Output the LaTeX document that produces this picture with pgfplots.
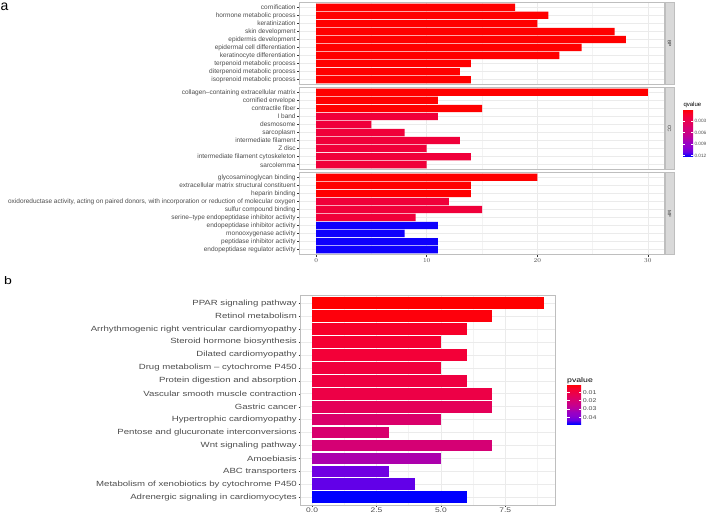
\documentclass[border=0pt]{standalone}
\usepackage{fontspec}
\setmainfont{Liberation Sans}
\newfontfamily\widesans[FakeStretch=1.28]{Liberation Sans}
\usepackage{pgfplots}
\pgfplotsset{compat=1.18}

\definecolor{axtext}{RGB}{77,77,77}
\definecolor{tickcol}{RGB}{51,51,51}
\definecolor{gridmaj}{RGB}{235,235,235}
\definecolor{gridmin}{RGB}{243,243,243}
\definecolor{frame}{RGB}{190,190,190}
\definecolor{stripfill}{RGB}{217,217,217}
\definecolor{qred}{RGB}{255,0,0}
\definecolor{qcrim}{RGB}{240,0,58}
\definecolor{qblue}{RGB}{14,0,252}

\pgfplotsset{
  % blue (high value) -> red (low value); used with negated meta so red sits on top
  colormap={br}{rgb255=(0,0,255) rgb255=(104,0,230) rgb255=(140,0,207) rgb255=(154,0,195) rgb255=(184,0,160) rgb255=(201,0,136) rgb255=(214,0,115) rgb255=(226,0,93) rgb255=(237,0,70) rgb255=(248,0,45) rgb255=(255,0,0)},
  common/.style={
    scale only axis, anchor=north west,
    xbar, bar shift=0pt, bar width=0.9,
    ymin=0.4, y dir=reverse,
    xmajorgrids, ymajorgrids, xminorgrids,
    major grid style={gridmaj, line width=0.6pt},
    minor grid style={gridmin, line width=0.4pt},
    axis line style={frame, line width=0.9pt},
    tick align=outside, major tick length=2.5pt,
    tick style={tickcol, line width=0.4pt},
    minor tick style={draw=none},
    xtick pos=bottom, ytick pos=left,
  },
  facet/.style={
    common,
    xmin=-1.5, xmax=31.5, ymax=10.6,
    ytick={1,...,10}, xtick={0,10,20,30}, minor xtick={5,15,25},
    tick label style={font=\fontsize{6.5}{7}\selectfont, text=axtext},
    yticklabel style={inner sep=1.2pt},
    xticklabel style={inner sep=1pt},
    width=365pt, height=82pt,
  },
  % the standalone colorbar lands ~8.7pt right of its "at"; the x values below allow for that
  cbar/.style={
    anchor=north west,
    scale only axis, scaled y ticks=false,
    axis line style={draw=none},
    tick align=inside,
    ytick style={white, line width=0.5pt},
  },
}

\begin{document}
\begin{tikzpicture}
\path[use as bounding box] (0pt,0pt) rectangle (709pt,-513pt);

\node[anchor=north west, inner sep=0pt, font=\fontsize{14}{14}\selectfont] at (0.5pt,-2.8pt) {a};
\node[anchor=north west, inner sep=0pt, font=\widesans\fontsize{11}{11}\selectfont] at (4pt,-276.5pt) {b};

% ---- panel a: BP
\begin{axis}[facet, at={(299.5pt,-2.5pt)},
  x tick style={draw=none}, xticklabels={},
  yticklabels={cornification, hormone metabolic process, keratinization, skin development, epidermis development, epidermal cell differentiation, keratinocyte differentiation, terpenoid metabolic process, diterpenoid metabolic process, isoprenoid metabolic process}]
\addplot[fill=qred, draw=none] coordinates {(18,1) (21,2) (20,3) (27,4) (28,5) (24,6) (22,7) (14,8) (13,9) (14,10)};
\end{axis}

% ---- panel a: CC
\begin{axis}[facet, at={(299.5pt,-87.5pt)},
  x tick style={draw=none}, xticklabels={},
  yticklabels={collagen–containing extracellular matrix, cornified envelope, contractile fiber, I band, desmosome, sarcoplasm, intermediate filament, Z disc, intermediate filament cytoskeleton, sarcolemma}]
\addplot[fill=qred, draw=none] coordinates {(30,1) (11,2) (15,3)};
\addplot[fill=qcrim, draw=none] coordinates {(11,4) (5,5) (8,6) (13,7) (10,8) (14,9) (10,10)};
\end{axis}

% ---- panel a: MF
\begin{axis}[facet, at={(299.5pt,-172.5pt)},
  yticklabels={glycosaminoglycan binding, extracellular matrix structural constituent, heparin binding, {oxidoreductase activity, acting on paired donors, with incorporation or reduction of molecular oxygen}, sulfur compound binding, serine–type endopeptidase inhibitor activity, endopeptidase inhibitor activity, monooxygenase activity, peptidase inhibitor activity, endopeptidase regulator activity}]
\addplot[fill=qred, draw=none] coordinates {(20,1) (14,2) (14,3)};
\addplot[fill=qcrim, draw=none] coordinates {(12,4) (15,5) (9,6)};
\addplot[fill=qblue, draw=none] coordinates {(11,7) (8,8) (11,9) (11,10)};
\end{axis}

% facet strips
\foreach \ytop/\lab in {2.5/BP, 87.5/CC, 172.5/MF}{
  \draw[frame, fill=stripfill, line width=0.6pt] (665pt,-\ytop pt) rectangle (674pt,{-(\ytop+82)*1pt});
  \node[rotate=-90, inner sep=0pt, font=\fontsize{4.8}{5}\selectfont, text=tickcol] at (669.5pt,{-(\ytop+41)*1pt}) {\lab};
}

% qvalue legend
\node[anchor=base west, inner sep=0pt, font=\fontsize{6}{6}\selectfont] at (683.3pt,-106.3pt) {qvalue};
\pgfplotscolorbardrawstandalone[
  colormap name=br, point meta min=-0.0123, point meta max=0,
  colorbar style={cbar,
    at={(674.6pt,-109.3pt)},
    width=10pt, height=47.4pt,
    ytick={-0.003,-0.006,-0.009,-0.012},
    yticklabels={0.003,0.006,0.009,0.012},
    major tick length=2pt,
    yticklabel style={font=\fontsize{4.7}{5}\selectfont, text=axtext, inner sep=1.2pt},
  }]

% ---- panel b
\begin{axis}[common, at={(300.5pt,-295.5pt)},
  width=255pt, height=209.5pt,
  xmin=-0.45, xmax=9.45, ymax=16.6,
  ytick={1,...,16},
  xtick={0,2.5,5,7.5}, xticklabels={0.0,2.5,5.0,7.5},
  minor xtick={1.25,3.75,6.25,8.75},
  major tick length=2pt,
  tick label style={font=\widesans\fontsize{7.5}{8}\selectfont, text=axtext},
  xticklabel style={font=\widesans\fontsize{6.6}{7}\selectfont, inner sep=0.3pt},
  yticklabel style={inner sep=1.5pt},
  yticklabels={PPAR signaling pathway, Retinol metabolism, Arrhythmogenic right ventricular cardiomyopathy, Steroid hormone biosynthesis, Dilated cardiomyopathy, Drug metabolism – cytochrome P450, Protein digestion and absorption, Vascular smooth muscle contraction, Gastric cancer, Hypertrophic cardiomyopathy, Pentose and glucuronate interconversions, Wnt signaling pathway, Amoebiasis, ABC transporters, Metabolism of xenobiotics by cytochrome P450, Adrenergic signaling in cardiomyocytes}]
\addplot[fill={rgb,255:red,255;green,0;blue,0}, draw=none] coordinates {(9,1)};
\addplot[fill={rgb,255:red,254;green,0;blue,12}, draw=none] coordinates {(7,2)};
\addplot[fill={rgb,255:red,247;green,0;blue,42}, draw=none] coordinates {(6,3)};
\addplot[fill={rgb,255:red,245;green,0;blue,50}, draw=none] coordinates {(5,4)};
\addplot[fill={rgb,255:red,243;green,0;blue,56}, draw=none] coordinates {(6,5)};
\addplot[fill={rgb,255:red,241;green,0;blue,61}, draw=none] coordinates {(5,6)};
\addplot[fill={rgb,255:red,239;green,0;blue,65}, draw=none] coordinates {(6,7)};
\addplot[fill={rgb,255:red,237;green,0;blue,70}, draw=none] coordinates {(7,8)};
\addplot[fill={rgb,255:red,229;green,0;blue,88}, draw=none] coordinates {(7,9)};
\addplot[fill={rgb,255:red,218;green,0;blue,106}, draw=none] coordinates {(5,10)};
\addplot[fill={rgb,255:red,216;green,0;blue,110}, draw=none] coordinates {(3,11)};
\addplot[fill={rgb,255:red,213;green,0;blue,116}, draw=none] coordinates {(7,12)};
\addplot[fill={rgb,255:red,172;green,0;blue,172}, draw=none] coordinates {(5,13)};
\addplot[fill={rgb,255:red,112;green,0;blue,226}, draw=none] coordinates {(3,14)};
\addplot[fill={rgb,255:red,98;green,0;blue,232}, draw=none] coordinates {(4,15)};
\addplot[fill={rgb,255:red,0;green,0;blue,255}, draw=none] coordinates {(6,16)};
\end{axis}

% pvalue legend
\node[anchor=base west, inner sep=0pt, font=\widesans\fontsize{6.8}{7}\selectfont] at (567pt,-382.5pt) {pvalue};
\pgfplotscolorbardrawstandalone[
  colormap name=br, point meta min=-0.048, point meta max=-0.0005,
  colorbar style={cbar,
    at={(558.6pt,-384.5pt)},
    width=14pt, height=39.5pt,
    ytick={-0.01,-0.02,-0.03,-0.04},
    yticklabels={0.01,0.02,0.03,0.04},
    major tick length=2.5pt,
    yticklabel style={font=\widesans\fontsize{5.5}{6}\selectfont, text=axtext, inner sep=1.5pt},
  }]
\end{tikzpicture}
\end{document}
